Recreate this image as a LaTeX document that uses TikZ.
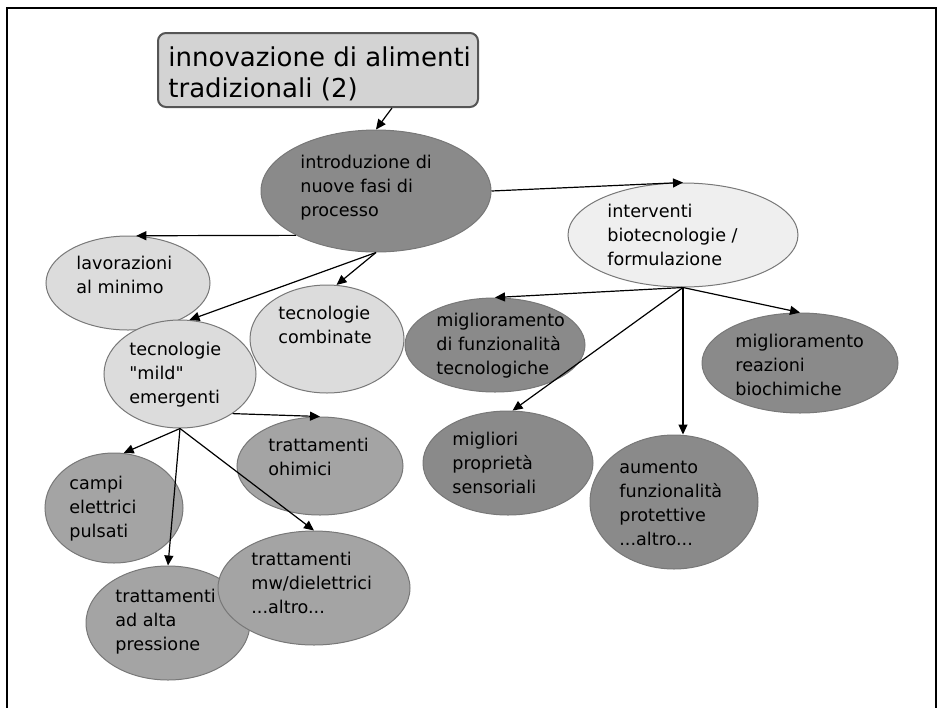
\documentclass[tikz,border=0pt]{standalone}
\usepackage{fontspec}
\setmainfont{DejaVu Sans}[Ligatures=TeXOff]
\usetikzlibrary{shapes.geometric,arrows.meta}

\newlength{\du}
\setlength{\du}{0.5pt}

\definecolor{titlefill}{rgb}{0.827451, 0.827451, 0.827451}
\definecolor{titleline}{rgb}{0.333333, 0.333333, 0.333333}
\definecolor{blobline}{rgb}{0.470588, 0.470588, 0.470588}
\definecolor{darkfill}{rgb}{0.541176, 0.541176, 0.541176}
\definecolor{midfill}{rgb}{0.643137, 0.643137, 0.643137}
\definecolor{lightfill}{rgb}{0.862745, 0.862745, 0.862745}
\definecolor{palefill}{rgb}{0.937255, 0.937255, 0.937255}

\tikzset{
  titlebox/.style={rectangle, rounded corners=4pt, draw=titleline, line width=1pt, fill=titlefill, inner sep=0pt},
  blob/.style={ellipse, draw=blobline, line width=0.5pt, inner sep=0pt},
  blobtext/.style={anchor=base west, align=left, inner sep=0pt, font=\fontsize{8.8}{11.9}\selectfont},
  link/.style={-{Triangle[length=5pt,width=4.5pt]}, line width=0.6pt, draw=black}
}

\begin{document}
\begin{tikzpicture}
\pgftransformxscale{1.000000}
\pgftransformyscale{-1.000000}
\useasboundingbox (0\du,0\du) rectangle (939\du,708\du);
% frame
\draw[line width=1pt] (7\du,708\du)--(7\du,8\du)--(936\du,8\du)--(936\du,708\du);
% title
\node[titlebox, minimum width=320\du, minimum height=74\du] (title) at (318\du,70\du) {};
% ellipses
\node[blob, fill=darkfill, minimum width=230\du, minimum height=122\du] (intro) at (376\du,191\du) {};
\node[blob, fill=palefill, minimum width=230\du, minimum height=104\du] (inter) at (683\du,235\du) {};
\node[blob, fill=lightfill, minimum width=164\du, minimum height=94\du] (lav) at (128\du,283\du) {};
\node[blob, fill=lightfill, minimum width=154\du, minimum height=108\du] (comb) at (327\du,339\du) {};
\node[blob, fill=lightfill, minimum width=152\du, minimum height=108\du] (mild) at (180\du,374\du) {};
\node[blob, fill=midfill, minimum width=166\du, minimum height=98\du] (ohim) at (320\du,466\du) {};
\node[blob, fill=midfill, minimum width=138\du, minimum height=110\du] (campi) at (114\du,508\du) {};
\node[blob, fill=midfill, minimum width=164\du, minimum height=114\du] (pres) at (168\du,623\du) {};
\node[blob, fill=midfill, minimum width=192\du, minimum height=114\du] (mw) at (314\du,588\du) {};
\node[blob, fill=darkfill, minimum width=180\du, minimum height=94\du] (funz) at (495\du,345\du) {};
\node[blob, fill=darkfill, minimum width=196\du, minimum height=100\du] (reaz) at (800\du,363\du) {};
\node[blob, fill=darkfill, minimum width=170\du, minimum height=104\du] (migl) at (508\du,463\du) {};
\node[blob, fill=darkfill, minimum width=168\du, minimum height=134\du] (aum) at (674\du,502\du) {};
% arrows
\draw[link] ([xshift=74\du]title.south)--(intro.north);
\draw[link] (intro.east)--(inter.north);
\draw[link] (intro.209)--(lav.80);
\draw[link] (intro.south)--(comb.80);
\draw[link] (intro.south)--(mild.80);
\draw[link] (mild.-37)--(ohim.north);
\draw[link] (mild.south)--(campi.80);
\draw[link] (mild.south)--(pres.north);
\draw[link] (mild.south)--(mw.north);
\draw[link] (inter.south)--(funz.north);
\draw[link] (inter.south)--(migl.85);
\draw[link] (inter.south)--(inter.south |- aum.north);
\draw[link] (inter.south)--(reaz.north);
% texts (anchored at the baseline of the last line)
\node[blobtext, font=\fontsize{13}{15.5}\selectfont] (title-t) at (168\du,97\du) {innovazione di alimenti\\tradizionali (2)};
\node[blobtext] (intro-t) at (300\du,216\du) {introduzione di\\nuove fasi di\\processo};
\node[blobtext] (inter-t) at (607\du,265\du) {interventi\\biotecnologie /\\formulazione};
\node[blobtext] (lav-t) at (76\du,293\du) {lavorazioni\\al minimo};
\node[blobtext] (comb-t) at (278\du,343\du) {tecnologie\\combinate};
\node[blobtext] (mild-t) at (129\du,403\du) {tecnologie\\"mild"\\emergenti};
\node[blobtext] (ohim-t) at (268\du,475\du) {trattamenti\\ohimici};
\node[blobtext] (campi-t) at (69\du,537\du) {campi\\elettrici\\pulsati};
\node[blobtext] (pres-t) at (115\du,650\du) {trattamenti\\ad alta\\pressione};
\node[blobtext] (mw-t) at (251\du,613\du) {trattamenti\\mw/dielettrici\\...altro...};
\node[blobtext] (funz-t) at (436\du,374\du) {miglioramento\\di funzionalità\\tecnologiche};
\node[blobtext] (reaz-t) at (735\du,395\du) {miglioramento\\reazioni\\biochimiche};
\node[blobtext] (migl-t) at (452\du,493\du) {migliori\\proprietà\\sensoriali};
\node[blobtext] (aum-t) at (619\du,545\du) {aumento\\funzionalità\\protettive\\...altro...};
\end{tikzpicture}
\end{document}
